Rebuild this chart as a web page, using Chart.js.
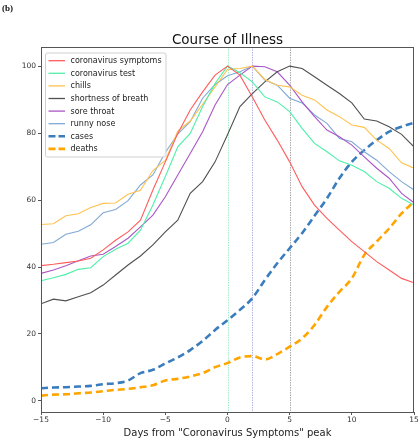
<!DOCTYPE html>
<html>
<head>
<meta charset="utf-8">
<script src="https://cdn.jsdelivr.net/npm/chart.js@4"></script>
<style>
  body { margin: 0; background: #fff; }
  canvas { display: block; }
</style>
</head>
<body>
<canvas id="illness" width="420" height="440"></canvas>
<script>
// days relative to the "coronavirus symptoms" peak
const days = [-15, -14, -13, -12, -11, -10, -9, -8, -7, -6, -5, -4, -3, -2, -1,
  0, 1, 2, 3, 4, 5, 6, 7, 8, 9, 10, 11, 12, 13, 14, 15];

const symptoms = [40.4, 40.8, 41.3, 41.8, 42.6, 45.1, 48.0, 50.5, 54.0, 63.0, 71.4, 79.9, 86.9, 92.3, 97.3,
  100, 97.3, 90.8, 83.9, 77.9, 71.4, 64.0, 58.5, 54.5, 51.0, 47.6, 44.6, 41.6, 39.1, 36.6, 35.3];
const test = [35.9, 36.8, 37.8, 39.3, 39.8, 43.1, 45.3, 47.1, 51.0, 58.5, 67.0, 75.9, 79.9, 87.9, 94.8,
  100, 98.0, 95.3, 90.8, 89.3, 86.4, 81.4, 76.9, 74.4, 71.7, 70.4, 68.5, 65.5, 63.5, 60.5, 58.5];
const chills = [52.7, 52.9, 55.3, 55.9, 57.8, 59.0, 59.1, 61.7, 62.9, 68.8, 71.8, 80.6, 83.6, 88.6, 93.8,
  99.0, 99.3, 100, 96.0, 94.3, 93.8, 91.3, 89.9, 86.9, 84.9, 82.4, 81.7, 77.9, 75.4, 71.1, 69.5];
const breath = [29.0, 30.4, 29.9, 31.1, 32.3, 34.6, 37.6, 40.6, 43.3, 46.6, 50.5, 54.0, 62.0, 65.5, 71.4,
  79.5, 87.9, 91.8, 95.3, 98.3, 100, 99.3, 96.8, 94.3, 91.8, 89.0, 84.2, 83.6, 81.9, 79.6, 75.9];
const throat = [38.1, 39.1, 40.4, 41.9, 43.3, 43.8, 46.1, 48.6, 52.0, 55.5, 61.0, 67.5, 73.9, 80.4, 88.4,
  94.5, 97.3, 100, 99.8, 98.3, 94.3, 89.3, 84.9, 80.9, 78.9, 76.4, 72.9, 69.5, 66.5, 62.0, 59.2];
const runny = [46.8, 47.3, 49.8, 50.7, 52.6, 56.2, 57.2, 59.8, 64.5, 67.5, 74.2, 79.7, 83.4, 90.4, 94.5,
  97.1, 98.3, 100, 95.8, 94.3, 90.4, 89.0, 85.4, 82.9, 78.4, 77.4, 74.4, 71.9, 68.5, 65.5, 63.0];
const cases = [3.8, 4.0, 4.1, 4.3, 4.5, 5.0, 5.3, 6.1, 8.3, 9.3, 11.2, 13.0, 15.2, 17.9, 21.2,
  24.1, 27.2, 30.7, 36.1, 41.1, 45.6, 50.1, 55.3, 60.5, 66.5, 71.4, 74.9, 77.9, 80.4, 81.9, 83.1];
const deaths = [1.6, 1.9, 2.0, 2.3, 2.5, 2.9, 3.3, 3.6, 4.1, 4.7, 6.1, 6.6, 7.3, 8.3, 10.1,
  11.3, 13.0, 13.4, 12.4, 14.0, 16.2, 18.7, 22.7, 28.1, 32.6, 36.6, 43.6, 47.6, 51.5, 56.0, 59.5];

const peakDays = [0, 2, 5];
const peakColors = ["#a8ecc9", "#b4b4e0", "#ababab"];
const xTicks = [-15, -10, -5, 0, 5, 10, 15];
const yTicks = [0, 20, 40, 60, 80, 100];

const FONT = "'DejaVu Sans', sans-serif";

const toPoints = (vals) => vals.map((v, i) => ({ x: days[i], y: v }));

const line = (label, vals, color) => ({
  label, data: toPoints(vals), borderColor: color, borderWidth: 1.1,
  pointRadius: 0, tension: 0, fill: false,
});
const dashed = (label, vals, color) => ({
  label, data: toPoints(vals), borderColor: color, borderWidth: 2.6,
  borderDash: [7, 4], pointRadius: 0, cubicInterpolationMode: "monotone", fill: false,
});

const datasets = [
  line("coronavirus symptoms", symptoms, "#ff5c5c"),
  line("coronavirus test", test, "#4ef0a8"),
  line("chills", chills, "#ffc24f"),
  line("shortness of breath", breath, "#505050"),
  line("sore throat", throat, "#a957c6"),
  line("runny nose", runny, "#80a9d6"),
  dashed("cases", cases, "#3a7dbd"),
  dashed("deaths", deaths, "#ffa500"),
];

// dotted vertical markers at the peak days
const peakLines = {
  id: "peakLines",
  beforeDatasetsDraw(chart) {
    const { ctx, chartArea, scales } = chart;
    ctx.save();
    ctx.lineWidth = 1;
    ctx.setLineDash([1.5, 1]);
    peakDays.forEach((d, i) => {
      const x = Math.round(scales.x.getPixelForValue(d)) + 0.5;
      ctx.strokeStyle = peakColors[i];
      ctx.beginPath();
      ctx.moveTo(x, chartArea.top);
      ctx.lineTo(x, chartArea.bottom);
      ctx.stroke();
    });
    ctx.restore();
  },
};

// frame, title, panel letter and in-plot legend
const decorations = {
  id: "decorations",
  afterDraw(chart) {
    const { ctx, chartArea } = chart;
    const { left, right, top, bottom } = chartArea;
    ctx.save();
    ctx.strokeStyle = "#555";
    ctx.lineWidth = 1;
    ctx.strokeRect(left + 0.5, top + 0.5, right - left - 1, bottom - top);

    ctx.fillStyle = "#111";
    ctx.font = "13.5px " + FONT;
    ctx.textAlign = "center";
    ctx.textBaseline = "middle";
    ctx.fillText("Course of Illness", (left + right) / 2, 40.5);

    ctx.font = "bold 9px 'Liberation Serif', serif";
    ctx.textAlign = "left";
    ctx.fillText("(b)", 2, 9);

    // legend
    const bx = 45.5, by = 53, bw = 120.5, bh = 104;
    ctx.fillStyle = "rgba(255,255,255,0.85)";
    ctx.strokeStyle = "#d0d0d0";
    ctx.beginPath();
    ctx.roundRect(bx, by, bw, bh, 2);
    ctx.fill();
    ctx.stroke();
    ctx.font = "8px " + FONT;
    ctx.textBaseline = "middle";
    chart.data.datasets.forEach((ds, i) => {
      const y = 60.7 + i * 12.6;
      ctx.strokeStyle = ds.borderColor;
      ctx.lineWidth = ds.borderWidth > 2 ? 2.6 : 1.3;
      ctx.setLineDash(ds.borderDash ? [7, 3] : []);
      ctx.beginPath();
      ctx.moveTo(48.5, y);
      ctx.lineTo(65, y);
      ctx.stroke();
      ctx.fillStyle = "#222";
      ctx.fillText(ds.label, 70.5, y + 0.5);
    });
    ctx.restore();
  },
};

new Chart(document.getElementById("illness"), {
  type: "line",
  data: { datasets },
  plugins: [peakLines, decorations],
  options: {
    responsive: false,
    animation: false,
    devicePixelRatio: 1,
    layout: { padding: { top: 47, right: 6, left: 0, bottom: 0 } },
    plugins: { legend: { display: false }, tooltip: { enabled: false }, title: { display: false } },
    scales: {
      x: {
        type: "linear", min: -15, max: 15,
        afterBuildTicks: (s) => { s.ticks = xTicks.map((v) => ({ value: v })); },
        afterFit: (s) => { s.height = 28; },
        grid: { drawOnChartArea: false, drawTicks: true, tickLength: 3, color: "#555" },
        border: { display: true, color: "#555" },
        ticks: {
          padding: 1, color: "#333", font: { family: FONT, size: 7.5 }, maxRotation: 0,
          callback: (v) => (v < 0 ? "\u2212" + Math.abs(v) : String(v)),
        },
        title: {
          display: true, text: 'Days from "Coronavirus Symptoms" peak',
          color: "#222", font: { family: FONT, size: 10 }, padding: { top: 0, bottom: 1 },
        },
      },
      y: {
        type: "linear", min: -3.3, max: 105.7,
        afterBuildTicks: (s) => { s.ticks = yTicks.map((v) => ({ value: v })); },
        afterFit: (s) => { s.width = 41; },
        grid: { drawOnChartArea: false, drawTicks: true, tickLength: 3, color: "#555" },
        border: { display: true, color: "#555" },
        ticks: { padding: 2, color: "#333", font: { family: FONT, size: 7.5 } },
      },
    },
  },
});
</script>
</body>
</html>
